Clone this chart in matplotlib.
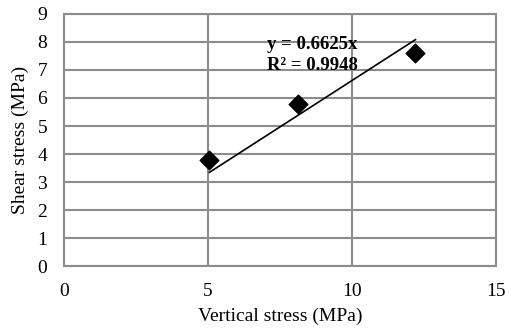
import matplotlib.pyplot as plt
import numpy as np

vertical_stress = [5.05, 8.12, 12.2]
shear_stress = [3.77, 5.8, 7.6]
slope = 0.6625
r2 = 0.9948
x_ticks = [0, 5, 10, 15]
y_ticks = list(range(0, 10))

plt.rcParams['font.family'] = ['Liberation Serif', 'DejaVu Serif']

fig = plt.figure(figsize=(5.11, 3.31), dpi=100)
ax = fig.add_axes([0.125, 0.196, 0.846, 0.762])

ax.scatter(vertical_stress, shear_stress, marker='D', s=90, color='black', zorder=3)

xs = np.array([min(vertical_stress), max(vertical_stress)])
ax.plot(xs, slope * xs, color='black', lw=1.2, zorder=2)

ax.text(7.05, 8.22, "y = %.4fx\nR² = %.4f" % (slope, r2), fontsize=13.5,
        fontweight='bold', va='top', ha='left', linespacing=1.35)

ax.set_xlim(0, 15)
ax.set_ylim(0, 9)
ax.set_xticks(x_ticks)
ax.set_yticks(y_ticks)
ax.grid(True, color='#8c8c8c', lw=1.5)
ax.set_axisbelow(True)
for s in ax.spines.values():
    s.set_color('#8c8c8c')
    s.set_linewidth(1.5)
ax.tick_params(length=0, labelsize=14, pad=12)
ax.set_xlabel("Vertical stress (MPa)", fontsize=14, labelpad=6)
ax.set_ylabel("Shear stress (MPa)", fontsize=14, labelpad=6)

fig.savefig("out.png", dpi=100)
